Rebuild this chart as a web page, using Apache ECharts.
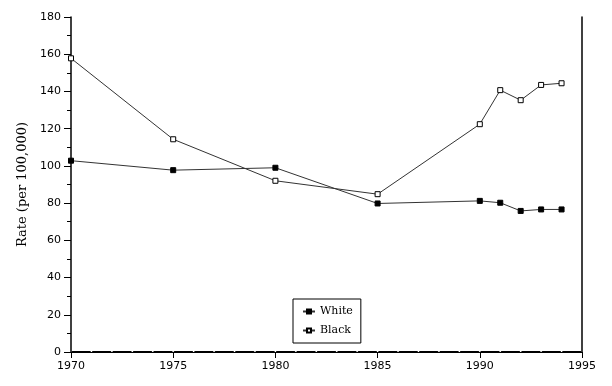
<!DOCTYPE html>
<html><head><meta charset="utf-8">
<script src="https://cdn.jsdelivr.net/npm/echarts@6/dist/echarts.min.js"></script>
<style>html,body{margin:0;padding:0;background:#fff}#c{width:612px;height:386px}</style>
</head><body><div id="c"></div>
<script>
const years = [1970, 1975, 1980, 1985, 1990, 1991, 1992, 1993, 1994];
const white = [102.8, 97.7, 99, 79.8, 81.2, 80.2, 75.8, 76.6, 76.6];
const black = [157.8, 114.3, 92, 84.8, 122.4, 140.7, 135.3, 143.5, 144.4];
const yTitle = 'Rate (per 100,000)';
const seriesNames = ['White', 'Black'];

const font = 'DejaVu Sans';
const chart = echarts.init(document.getElementById('c'), null, {renderer: 'canvas'});
const pair = (arr) => years.map((y, i) => [y, arr[i]]);
chart.setOption({
  animation: false,
  backgroundColor: '#fff',
  grid: {left: 71, right: 30, top: 17, bottom: 34},
  legend: {
    orient: 'vertical', left: 293, top: 299,
    data: seriesNames,
    borderColor: '#000', borderWidth: 1, padding: [7, 8, 7, 9],
    itemWidth: 12, itemHeight: 5, itemGap: 8,
    textStyle: {fontFamily: 'DejaVu Serif', fontSize: 11, color: '#000'}
  },
  xAxis: [{
    type: 'value', min: 1970, max: 1995, interval: 5,
    axisLine: {lineStyle: {color: '#000', width: 2, type: [17.44, 3], dashOffset: -1.5}},
    axisTick: {show: true, length: 6, inside: false, lineStyle: {color: '#000', width: 1}},
    axisLabel: {margin: 9, fontFamily: font, fontSize: 11, color: '#000', formatter: v => String(v)},
    splitLine: {show: false}
  }, {
    type: 'value', min: 1970, max: 1995, position: 'top',
    axisLine: {show: true, lineStyle: {color: '#000', width: 1}},
    axisTick: {show: false}, axisLabel: {show: false}, splitLine: {show: false}
  }],
  yAxis: [{
    type: 'value', min: 0, max: 180, interval: 20,
    name: yTitle, nameLocation: 'middle', nameGap: 37, nameRotate: 90,
    nameTextStyle: {fontFamily: 'DejaVu Serif', fontSize: 13, color: '#000'},
    axisLine: {show: true, lineStyle: {color: '#000', width: 1.5}},
    axisTick: {show: true, length: 7, lineStyle: {color: '#000'}},
    minorTick: {show: true, splitNumber: 2, length: 4, lineStyle: {color: '#000'}},
    axisLabel: {margin: 10, fontFamily: font, fontSize: 11, color: '#000'},
    splitLine: {show: false}
  }, {
    type: 'value', min: 0, max: 180, position: 'right',
    axisLine: {show: true, lineStyle: {color: '#000', width: 1.5}},
    axisTick: {show: false}, axisLabel: {show: false}, splitLine: {show: false}
  }],
  series: [{
    name: 'White', type: 'line', data: pair(white),
    symbol: 'rect', symbolSize: 5,
    lineStyle: {color: '#333', width: 1},
    itemStyle: {color: '#000', borderColor: '#000', borderWidth: 1}
  }, {
    name: 'Black', type: 'line', data: pair(black),
    symbol: 'rect', symbolSize: 5,
    lineStyle: {color: '#333', width: 1},
    itemStyle: {color: '#fff', borderColor: '#000', borderWidth: 1}
  }]
});
</script></body></html>
